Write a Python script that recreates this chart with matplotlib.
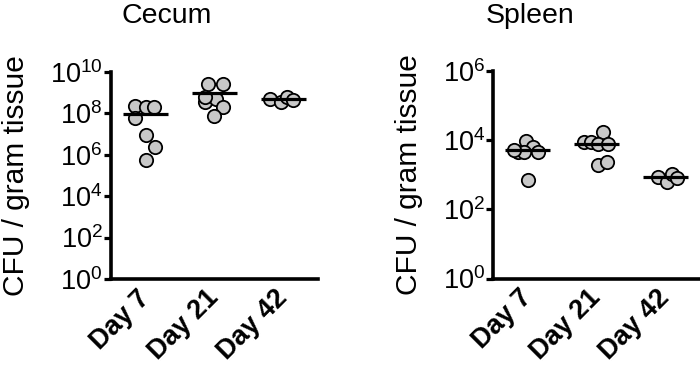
import numpy as np
import matplotlib
matplotlib.use("Agg")
import matplotlib.pyplot as plt
from matplotlib.ticker import FixedLocator, FuncFormatter

plt.rcParams['font.family'] = ['Liberation Sans', 'DejaVu Sans']
plt.rcParams['mathtext.fontset'] = 'custom'
plt.rcParams['mathtext.rm'] = 'Liberation Sans'
plt.rcParams['mathtext.it'] = 'Liberation Sans:italic'
plt.rcParams['mathtext.bf'] = 'Liberation Sans:bold'

categories = ["Day 7", "Day 21", "Day 42"]

# Cecum CFU / gram tissue
cecum_day7 = [2.3e8, 1.95e8, 1.95e8, 5.8e7, 9.1e6, 2.3e6, 5.6e5]
cecum_day21 = [2.6e9, 2.6e9, 3.7e8, 4.8e8, 1.95e8, 7.4e7, 6.5e8]
cecum_day42 = [5.0e8, 3.5e8, 6.5e8, 4.5e8]

# Spleen CFU / gram tissue
spleen_day7 = [9.7e3, 6.5e3, 4.6e3, 4.6e3, 4.6e3, 5.2e3, 7.1e2]
spleen_day21 = [1.78e4, 8.9e3, 8.9e3, 7.8e3, 7.8e3, 1.86e3, 2.4e3]
spleen_day42 = [870, 630, 1070, 790]

# horizontal scatter (jitter) of the dots, in category units
cecum_jitter = [
    [-0.157, 0.003, 0.123, -0.152, 0.003, 0.138, 0.003],
    [-0.094, 0.128, -0.142, 0.017, 0.128, -0.007, -0.142],
    [-0.196, -0.041, 0.055, 0.142],
]
spleen_jitter = [
    [-0.025, 0.072, -0.145, -0.049, 0.145, -0.194, 0.009],
    [0.087, -0.184, -0.083, 0.014, 0.159, 0.014, 0.149],
    [-0.116, 0.014, 0.087, 0.159],
]

panels = [
    dict(title="Cecum", groups=[cecum_day7, cecum_day21, cecum_day42], jitter=cecum_jitter,
         ticks=[0, 2, 4, 6, 8, 10],
         rect=[111/700, 1-279/367, 207/700, 207/367], title_x=166.5/700),
    dict(title="Spleen", groups=[spleen_day7, spleen_day21, spleen_day42], jitter=spleen_jitter,
         ticks=[0, 2, 4, 6],
         rect=[493.3/700, 1-278.5/367, 206.7/700, 207.5/367], title_x=530/700),
]

fig = plt.figure(figsize=(7, 3.67), dpi=100)

for p in panels:
    ax = fig.add_axes(p["rect"])
    ax.set_yscale("log")
    for i, (vals, jit) in enumerate(zip(p["groups"], p["jitter"])):
        xs = i + np.array(jit)
        ax.scatter(xs, vals, s=92, facecolor="#c8c8c8", edgecolor="black",
                   linewidth=1.3, zorder=3, clip_on=False)
        m = np.mean(vals)
        ax.plot([i - 0.33, i + 0.33], [m, m], color="black", lw=2.3,
                solid_capstyle="butt", zorder=4)
    ax.set_xlim(-0.5, 2.5)
    ax.set_ylim(10.0 ** p["ticks"][0], 10.0 ** p["ticks"][-1])
    ax.yaxis.set_major_locator(FixedLocator([10.0 ** t for t in p["ticks"]]))
    ax.yaxis.set_minor_locator(FixedLocator([]))
    ax.yaxis.set_major_formatter(FuncFormatter(
        lambda v, pos: r"$\mathregular{10^{%d}}$" % int(round(np.log10(v)))))
    ax.set_xticks(range(len(categories)))
    ax.set_xticklabels(categories, rotation=45, ha="right", va="center",
                       rotation_mode="anchor", fontsize=19.5, fontweight="bold")
    ax.tick_params(axis="x", length=0, pad=11)
    ax.tick_params(axis="y", length=5, width=2.3, labelsize=19.5, pad=1)
    for s in ["top", "right"]:
        ax.spines[s].set_visible(False)
    for s in ["left", "bottom"]:
        ax.spines[s].set_linewidth(2.6)
    ax.set_ylabel("CFU / gram tissue", fontsize=21.5, labelpad=14)
    fig.text(p["title_x"], 1 - 23.3/367, p["title"], fontsize=20.5,
             ha="center", va="baseline")

fig.savefig("out.png", dpi=100)
